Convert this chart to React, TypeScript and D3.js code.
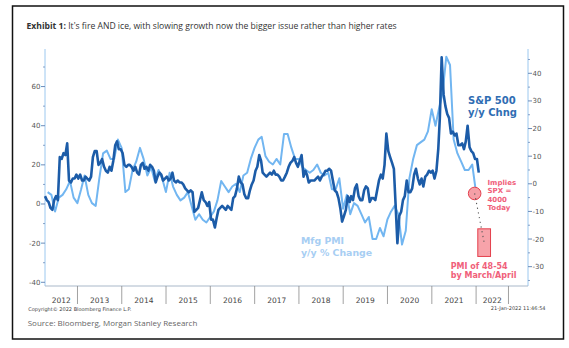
import React from 'react';
import * as d3 from 'd3';

// ---------- DATA ----------
// S&P 500 y/y % change, two readings per month (~8th and ~23rd), from Apr 2012
const spx2012 = [4, 2, 1, -2, -3, 2, 4, 2, 24, 23, 26, 25, 31, 12, 11, 13, 13, 15];
const spx2013 = [13, 15, 12, 12, 14, 13, 12, 14, 24, 27, 27, 20, 21, 23, 19, 17, 16, 19, 17, 22, 30, 32, 28, 28];
const spx2014 = [26, 20, 19, 20, 20, 19, 17, 19, 16, 15, 20, 21, 18, 19, 17, 20, 19, 17, 11, 14, 16, 15, 12, 13];
const spx2015 = [14, 12, 13, 16, 12, 11, 12, 11, 11, 10, 8, 7, 6, 7, 6, -4, -3, -2, 2, 6, 2, 1, -1, 1];
const spx2016 = [-8, -8, -12, -7, -3, -2, -1, -2, -3, -1, -2, -3, 3, 4, 8, 14, 11, 10, 5, 3, 3, 7, 10, 12];
const spx2017 = [17, 19, 25, 22, 16, 15, 14, 15, 16, 15, 17, 15, 15, 14, 12, 12, 14, 16, 19, 21, 22, 24, 21, 19];
const spx2018 = [22, 25, 14, 17, 15, 11, 12, 12, 12, 13, 14, 12, 14, 15, 17, 17, 18, 17, 12, 7, 6, 3, -2, -9];
const spx2019 = [-6, -3, 4, 1, 4, 2, 8, 10, 4, 2, 2, 7, 9, 8, 1, 3, 3, 2, 7, 12, 15, 13, 20, 36];
const spx2020 = [27, 24, 21, 18, 0, -20, -6, -4, 2, 4, 12, 6, 6, 8, 15, 18, 13, 10, 13, 9, 14, 15, 17, 16];
const spx2021 = [17, 13, 17, 28, 44, 75, 56, 50, 46, 44, 36, 37, 35, 36, 30, 30, 31, 28, 32, 40, 29, 27, 26, 23];
const spx2022 = [23, 16];

// Mfg PMI y/y % change, monthly (month end), from Apr 2012
const pmi2012 = [-3, -4, -10, -5, -4, -2, 1, -5, -7];
const pmi2013 = [-2, 3, -4, -7, -8, 2, 11, 12, 9, 9, 16, 13];
const pmi2014 = [-3, -2, 5, 8, 13, 9, 3, 6, 1, 5, 2, -3];
const pmi2015 = [4, -1, -4, -6, -5, -3, -8, -13, -11, -13, -14, -12];
const pmi2016 = [-10, -6, 1, -1, -3, -1, 0, -3, 3, 4, 9, 13];
const pmi2017 = [16, 17, 10, 8, 7, 9, 7, 18, 18, 13, 9, 9];
const pmi2018 = [6, 5, 4, 5, 7, 4, 3, 4, -2, -2, 2, -9];
const pmi2019 = [-4, -11, -7, -8, -11, -14, -12, -20, -20, -16, -19, -13];
const pmi2020 = [-10, -8, -11, -22, -17, 2, 9, 14, 15, 16, 19, 27];
const pmi2021 = [21, 27, 33, 46, 43, 16, 11, 8, 5, 5, 7, -3];

const yearLabels = ['2012', '2013', '2014', '2015', '2016', '2017', '2018', '2019', '2020', '2021', '2022'];
const leftTicks = [-40, -20, 0, 20, 40, 60];
const leftMinor = [-30, -10, 10, 30, 50, 70];
const rightTicks = [-30, -20, -10, 0, 10, 20, 30, 40];
const rightMinor = [-35, -25, -15, -5, 5, 15, 25, 35, 45];

// annotations (right-axis units)
const impliedDate = new Date(2021, 11, 20);
const impliedValue = -3.5;
const rangeStart = new Date(2022, 0, 15);
const rangeEnd = new Date(2022, 3, 30);
const rangeHigh = -16.3;
const rangeLow = -26.3;

const W = 569;
const H = 348;

export default function App() {
  const spxAll = [...spx2012, ...spx2013, ...spx2014, ...spx2015, ...spx2016, ...spx2017, ...spx2018, ...spx2019, ...spx2020, ...spx2021, ...spx2022];
  const pmiAll = [...pmi2012, ...pmi2013, ...pmi2014, ...pmi2015, ...pmi2016, ...pmi2017, ...pmi2018, ...pmi2019, ...pmi2020, ...pmi2021];

  const spxData: [Date, number][] = spxAll.map((v, i) => [new Date(2012, 3 + Math.floor(i / 2), i % 2 === 0 ? 8 : 23), v]);
  const pmiData: [Date, number][] = pmiAll.map((v, i) => [new Date(2012, 3 + i + 1, 0), v]);

  const x = d3.scaleTime().domain([new Date(2012, 3, 8), new Date(2023, 2, 5)]).range([45, 528]);
  const yL = d3.scaleLinear().domain([-41.9, 79.2]).range([286, 49]);
  const yR = d3.scaleLinear().domain([-37, 48.8]).range([286, 49]);

  const spxLine = d3.line<[Date, number]>().x(d => x(d[0])).y(d => yL(d[1]))(spxData) || '';
  const pmiLine = d3.line<[Date, number]>().x(d => x(d[0])).y(d => yR(d[1]))(pmiData) || '';

  const seps = yearLabels.slice(1).map(y => new Date(+y, 0, 1));
  const labelEnd = new Date(2022, 8, 25);
  const bounds = [x.range()[0], ...seps.map(d => x(d)), x(labelEnd)];

  const axisColor = '#9cc8ef';
  const tickColor = '#6b8cba';
  const tickFont = 'DejaVu Sans, Verdana, sans-serif';

  const cx = x(impliedDate), cy = yR(impliedValue);
  const rx0 = x(rangeStart), rx1 = x(rangeEnd), ry0 = yR(rangeHigh), ry1 = yR(rangeLow);

  return (
    <svg width={W} height={H} style={{ position: 'absolute', left: 0, top: 0, background: '#fff' }}>
      <rect x={12.5} y={6} width={551} height={333} fill="#fff" stroke="#111" strokeWidth={1.5} />
      <text x={26.5} y={28.5} fontFamily="Open Sans, Noto Sans, sans-serif" fontSize={8.6} fill="#333">
        <tspan fontWeight="bold">Exhibit 1:</tspan>
        <tspan> It's fire AND ice, with slowing growth now the bigger issue rather than higher rates</tspan>
      </text>

      {/* axes lines */}
      <line x1={45} x2={45} y1={49} y2={286} stroke={axisColor} strokeWidth={1} />
      <line x1={528} x2={528} y1={49} y2={286} stroke={axisColor} strokeWidth={1} />
      <line x1={45} x2={528} y1={286} y2={286} stroke="#a9b8c9" strokeWidth={1} />

      {leftTicks.map(t => (
        <g key={'l' + t}>
          <line x1={41} x2={45} y1={yL(t)} y2={yL(t)} stroke={tickColor} strokeWidth={1} />
          <text x={40.5} y={yL(t) + 2.5} textAnchor="end" fontFamily={tickFont} fontSize={7} fill="#555">{t}</text>
        </g>
      ))}
      {leftMinor.map(t => (
        <line key={'lm' + t} x1={43} x2={45} y1={yL(t)} y2={yL(t)} stroke={tickColor} strokeWidth={0.8} />
      ))}
      {rightTicks.map(t => (
        <g key={'r' + t}>
          <line x1={528} x2={532} y1={yR(t)} y2={yR(t)} stroke={tickColor} strokeWidth={1} />
          <text x={532.5} y={yR(t) + 2.5} textAnchor="start" fontFamily={tickFont} fontSize={7} fill="#555">{t}</text>
        </g>
      ))}
      {rightMinor.map(t => (
        <line key={'rm' + t} x1={528} x2={530} y1={yR(t)} y2={yR(t)} stroke={tickColor} strokeWidth={0.8} />
      ))}

      {/* year separators and labels */}
      {bounds.slice(1).map((bx, i) => (
        <line key={'s' + i} x1={bx} x2={bx} y1={286} y2={304} stroke="#8a8a8a" strokeWidth={0.8} />
      ))}
      {yearLabels.map((lab, i) => (
        <text key={lab} x={(bounds[i] + bounds[i + 1]) / 2} y={302.5} textAnchor="middle" fontFamily={tickFont} fontSize={7.5} fill="#444">{lab}</text>
      ))}

      {/* series */}
      <path d={pmiLine} fill="none" stroke="#72b6f1" strokeWidth={2} strokeLinejoin="round" />
      <path d={spxLine} fill="none" stroke="#1c5ca8" strokeWidth={2.6} strokeLinejoin="round" />

      {/* annotations */}
      <rect x={rx0} y={ry0} width={rx1 - rx0} height={ry1 - ry0} fill="#f7a3aa" stroke="#e4404d" strokeWidth={1} />
      <circle cx={cx} cy={cy} r={6.3} fill="#f59fa6" stroke="#e4404d" strokeWidth={1} />
      <line x1={cx} y1={cy} x2={(rx0 + rx1) / 2} y2={(ry0 + ry1) / 2} stroke="#555" strokeWidth={1.1} strokeDasharray="1.2,3.6" />

      <g fontFamily="DejaVu Sans, Verdana, sans-serif" fontWeight="bold">
        <text x={468} y={104} fontSize={10} fill="#2f6db3">S&amp;P 500</text>
        <text x={468} y={115.5} fontSize={10} fill="#2f6db3">y/y Chng</text>
        <text x={301} y={244} fontSize={9.4} fill="#a7cef3">Mfg PMI</text>
        <text x={301} y={255.5} fontSize={9.4} fill="#a7cef3">y/y % Change</text>
        <text x={487.5} y={185.2} fontSize={7} fill="#f0607a">Implies</text>
        <text x={487.5} y={193.4} fontSize={7} fill="#f0607a">SPX =</text>
        <text x={487.5} y={201.6} fontSize={7} fill="#f0607a">4000</text>
        <text x={487.5} y={209.8} fontSize={7} fill="#f0607a">Today</text>
        <text x={450.7} y={269} fontSize={8} fill="#f0607a">PMI of 48-54</text>
        <text x={450.7} y={278.3} fontSize={8} fill="#f0607a">by March/April</text>
      </g>

      <text x={28.3} y={310.5} fontFamily={tickFont} fontSize={5} fill="#444">Copyright© 2022 Bloomberg Finance L.P.</text>
      <text x={545.5} y={310} textAnchor="end" fontFamily={tickFont} fontSize={5} fill="#444">21-Jan-2022 11:46:54</text>
      <text x={27.7} y={326} fontFamily="Open Sans, Noto Sans, sans-serif" fontSize={8} fill="#666">Source: Bloomberg, Morgan Stanley Research</text>
    </svg>
  );
}
